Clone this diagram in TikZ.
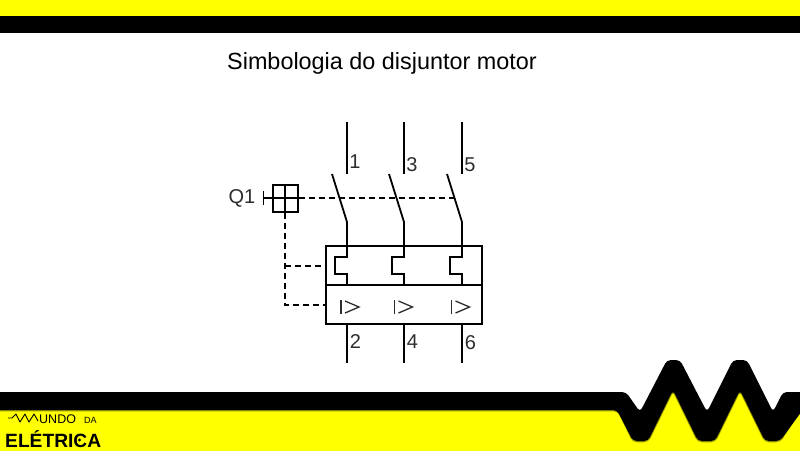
\documentclass[tikz,border=0pt]{standalone}
\usepackage{fontspec}
\setmainfont{Liberation Sans}
\definecolor{barY}{RGB}{255,255,0}
\definecolor{inkK}{RGB}{0,0,0}
\definecolor{shadowY}{RGB}{150,150,0}
\definecolor{labelK}{RGB}{45,45,45}
\tikzset{
  wire/.style={draw=inkK,line width=1.8pt},
  dashwire/.style={draw=inkK,line width=1.8pt,dash pattern=on 6pt off 4pt},
  thin wire/.style={draw=labelK,line width=1.3pt},
  lbl/.style={text=labelK,inner sep=0pt,font=\fontsize{20}{22}\selectfont},
  box/.style={draw=inkK,line width=2pt},
}
\begin{document}
\begin{tikzpicture}[x=1pt,y=-1pt]
\useasboundingbox (0,0) rectangle (800,450);
\fill[white] (0,0) rectangle (800,450);
% top band
\fill[barY] (0,0) rectangle (800,16);
\fill[inkK] (0,16) rectangle (800,33);
% bottom band
\fill[barY] (-5,400) -- (630,400) -- (640,425) -- (673,380) -- (707,425) -- (740,380) -- (773,425) -- (790,400) -- (805,400) -- (805,455) -- (-5,455) -- cycle;
\draw[shadowY,line width=1.5pt,rounded corners=4pt]
  (-5,410.5) -- (618,410.5) -- (633,441.5) -- (648,441.5) -- (673,390.5) -- (698,441.5) -- (715,441.5) -- (740,390.5) -- (765,441.5) -- (780,441.5) -- (805,403);
\path[fill=inkK,rounded corners=4pt]
  (-10,392) -- (626,392) -- (640,412) -- (667,360) -- (680,360) -- (707,412) -- (733,360) -- (747,360) -- (773,412) -- (783,392) -- (810,392)
  -- (810,400) -- (780,441) -- (765,441) -- (740,390) -- (715,441) -- (698,441) -- (673,390) -- (648,441) -- (633,441) -- (617,410) -- (-10,410) -- cycle;
% logo
\draw[inkK,line width=0.9pt,line join=round] (8,418) -- (12,418) -- (16,414) -- (20,422) -- (25,414) -- (29,422) -- (34,414) -- (38,421);
\node[anchor=base west,inner sep=0pt,text=inkK,font=\fontsize{12.5}{14}\selectfont] (undo) at (39,423.5) {UNDO};
\node[anchor=base west,inner sep=0pt,text=inkK,font=\fontsize{9}{10}\selectfont] (da) at (84,423.5) {DA};
\node[anchor=base west,inner sep=0pt,text=inkK,font=\fontsize{19.2}{22}\bfseries\selectfont] (eletrica) at (5,447) {ELÉTRICA};
\fill[inkK] (79.5,440) circle (1.7pt);
% title
\node[anchor=base west,inner sep=0pt,text=inkK,font=\fontsize{23.4}{27}\selectfont] (title) at (227,69) {Simbologia do disjuntor motor};
% poles
\foreach \px/\topn/\botn/\tl/\bl/\ox in {347/1/2/162/342/0,404/3/4/165/342/-3.5,462/5/6/165/343/-4.5}{
  \draw[wire] (\px,122) -- (\px,174);
  \draw[wire] (\px-15,174) -- (\px,222) -- (\px,257) -- (\px-12,257) -- (\px-12,274) -- (\px,274) -- (\px,285);
  \draw[wire] (\px,324) -- (\px,363);
  \node[lbl] at (\px+8,\tl) {\topn};
  \node[lbl] at (\px+8.5,\bl) {\botn};
  \draw[thin wire] (\px-6+\ox,300) -- (\px-6+\ox,314);
  \draw[thin wire] (\px-2+\ox,301) -- (\px+12+\ox,307) -- (\px-2+\ox,313);
}
% breaker box
\coordinate (tl) at (326,246);
\coordinate (br) at (482,324);
\draw[box] (tl) rectangle (br);
\draw[box] (326,285) -- (482,285);
% operator
\node[lbl,anchor=center] (q1) at (242,198.5) {Q1};
\node[draw=inkK,line width=2pt,minimum width=25pt,minimum height=27pt,inner sep=0pt] (op) at (285,198) {};
\draw[wire] (op.north) -- (op.south);
\draw[wire] (264,198) -- (op.east);
\draw[wire] (263.5,191) -- (263.5,205);
% dashed links
\draw[dashwire] (op.east) -- (458,198);
\draw[dashwire] (op.south) -- (285,305) -- (326,305);
\draw[dashwire] (285,266) -- (326,266);
\end{tikzpicture}
\end{document}
